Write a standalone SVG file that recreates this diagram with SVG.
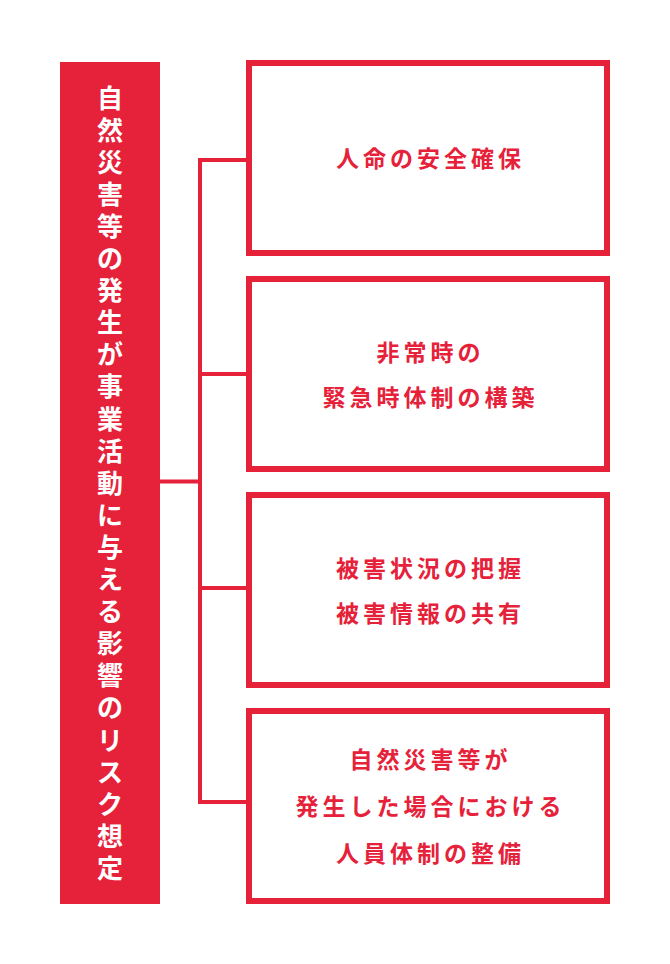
<svg xmlns="http://www.w3.org/2000/svg" width="670" height="964" viewBox="0 0 670 964">
<style>
.box{fill:#fff;stroke:#E6213A;stroke-width:6}
.conn{fill:none;stroke:#E6213A;stroke-width:4}
.bt{font-family:"Noto Sans CJK JP","Noto Sans",sans-serif;font-weight:700;font-size:23px;letter-spacing:4px;fill:#E6213A;text-anchor:middle}
.vt{font-family:"Noto Sans CJK JP","Noto Sans",sans-serif;font-weight:700;font-size:26px;fill:#fff;text-anchor:middle}
</style>
<rect width="670" height="964" fill="#fff"/>
<g id="connectors">
<path class="conn" d="M246 160 H200 V802 H246 M200 374 H246 M200 588 H246 M160 481.5 H200"/>
</g>
<g id="main">
<rect x="60" y="62" width="100" height="842" fill="#E6213A"/>
<text class="vt" x="110 110 110 110 110 110 110 110 110 110 110 110 110 110 110 110 110 110 110 110 110 110 110 110 110" y="107.5 139.6 171.7 203.8 235.9 268 300.1 332.2 364.3 396.4 428.5 460.6 492.7 524.8 556.9 589 621.1 653.2 685.3 717.4 749.5 781.6 813.7 845.8 877.9">自然災害等の発生が事業活動に与える影響のリスク想定</text>
</g>
<g id="box1">
<rect class="box" x="249" y="63" width="358" height="190"/>
<text class="bt" x="430.5" y="166.5">人命の安全確保</text>
</g>
<g id="box2">
<rect class="box" x="249" y="279" width="358" height="190"/>
<text class="bt" x="430.5" y="360.5">非常時の</text>
<text class="bt" x="430.5" y="405.5">緊急時体制の構築</text>
</g>
<g id="box3">
<rect class="box" x="249" y="495" width="358" height="190"/>
<text class="bt" x="430.5" y="576.5">被害状況の把握</text>
<text class="bt" x="430.5" y="621.5">被害情報の共有</text>
</g>
<g id="box4">
<rect class="box" x="249" y="711" width="358" height="190"/>
<text class="bt" x="430.5" y="767.5">自然災害等が</text>
<text class="bt" x="430.5" y="814.5">発生した場合における</text>
<text class="bt" x="430.5" y="861.5">人員体制の整備</text>
</g>
</svg>
